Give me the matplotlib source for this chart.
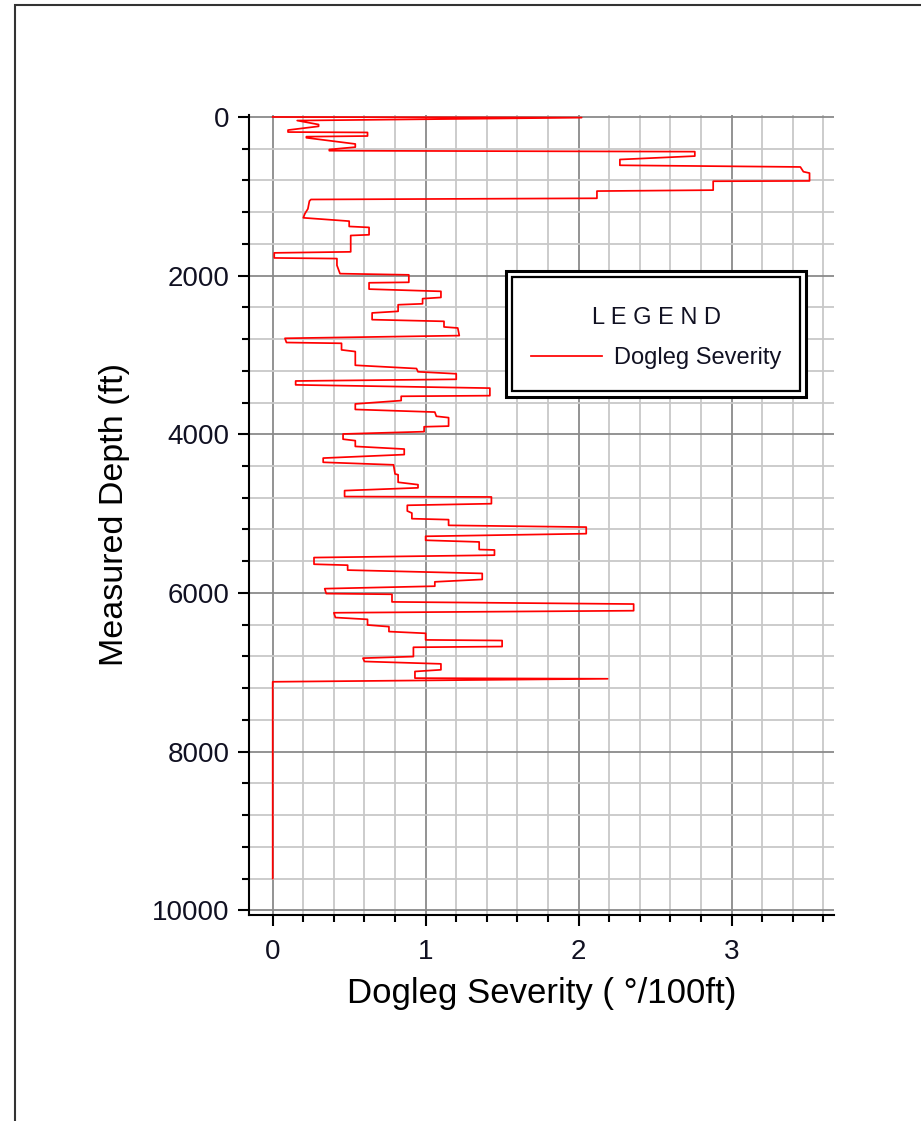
import matplotlib.pyplot as plt
from matplotlib.patches import Rectangle
from matplotlib.ticker import MultipleLocator
from matplotlib.transforms import IdentityTransform

plt.rcParams['font.family'] = ['Liberation Sans', 'DejaVu Sans']

# survey stations: measured depth (ft) and dogleg severity (deg/100ft)
depth_ft = [
    0, 8, 45, 95, 118, 165, 190, 195, 240, 248, 262, 340, 380, 410, 425,
    437, 493, 536, 609, 630, 690, 707, 806, 810, 922, 934, 1025, 1040, 1060,
    1158, 1221, 1271, 1313, 1380, 1392, 1485, 1494, 1700, 1713, 1777, 1785,
    1870, 1975, 1990, 2084, 2090, 2170, 2198, 2275, 2290, 2355, 2367, 2450,
    2470, 2555, 2576, 2647, 2660, 2756, 2790, 2843, 2853, 2936, 2957, 3130,
    3171, 3212, 3237, 3307, 3328, 3377, 3418, 3513, 3521, 3575, 3617, 3687,
    3720, 3773, 3790, 3897, 3905, 3967, 3996, 4062, 4080, 4153, 4186, 4256,
    4300, 4353, 4385, 4500, 4510, 4605, 4635, 4675, 4710, 4785, 4790, 4875,
    4895, 4967, 4993, 5064, 5076, 5148, 5170, 5253, 5286, 5336, 5357, 5453,
    5458, 5524, 5554, 5638, 5650, 5712, 5754, 5830, 5860, 5915, 5946, 6008,
    6017, 6113, 6140, 6224, 6250, 6310, 6333, 6404, 6425, 6487, 6509, 6592,
    6600, 6676, 6685, 6802, 6822, 6864, 6894, 6969, 6990, 7074, 7082, 7120,
    9600,
]
dls = [
    0.0, 2.02, 0.16, 0.30, 0.30, 0.10, 0.10, 0.62, 0.62, 0.22, 0.22, 0.54,
    0.54, 0.37, 0.37, 2.76, 2.76, 2.27, 2.27, 3.45, 3.47, 3.51, 3.51, 2.88,
    2.88, 2.12, 2.12, 0.25, 0.24, 0.23, 0.21, 0.20, 0.50, 0.50, 0.63, 0.63,
    0.51, 0.51, 0.01, 0.01, 0.42, 0.42, 0.44, 0.89, 0.89, 0.63, 0.63, 1.10,
    1.10, 0.98, 0.98, 0.82, 0.82, 0.65, 0.65, 1.12, 1.12, 1.21, 1.22, 0.08,
    0.09, 0.45, 0.45, 0.54, 0.54, 0.94, 0.95, 1.20, 1.20, 0.15, 0.15, 1.42,
    1.42, 0.84, 0.84, 0.54, 0.54, 1.06, 1.07, 1.15, 1.15, 0.99, 0.99, 0.46,
    0.46, 0.54, 0.54, 0.86, 0.86, 0.33, 0.33, 0.79, 0.80, 0.82, 0.82, 0.95,
    0.95, 0.47, 0.47, 1.43, 1.43, 0.88, 0.88, 0.91, 0.91, 1.15, 1.15, 2.05,
    2.05, 1.00, 1.00, 1.35, 1.35, 1.45, 1.45, 0.27, 0.27, 0.49, 0.49, 1.37,
    1.37, 1.06, 1.06, 0.34, 0.35, 0.78, 0.78, 2.36, 2.36, 0.40, 0.41, 0.62,
    0.62, 0.76, 0.76, 1.00, 1.00, 1.50, 1.50, 0.92, 0.92, 0.59, 0.60, 1.10,
    1.10, 0.93, 0.93, 2.19, 0.0, 0.0,
]

x_ticks = [0, 1, 2, 3]
y_ticks = [0, 2000, 4000, 6000, 8000, 10000]

W, H = 921, 1121
fig = plt.figure(figsize=(W / 100, H / 100), dpi=100)


def px_box(x0, y0, x1, y1):
    # pixel box (top-left origin) -> figure fraction rect
    return [x0 / W, 1 - y1 / H, (x1 - x0) / W, (y1 - y0) / H]


def px_rect(x0, y0, x1, y1, **kw):
    # rectangle in pixel coords with top-left origin
    return Rectangle((x0, H - y1), x1 - x0, y1 - y0,
                     transform=IdentityTransform(), clip_on=False, **kw)


ax = fig.add_axes(px_box(249, 115, 834, 915))
ax.plot(dls, depth_ft, color='#ff0000', lw=1.25, label='Dogleg Severity')

ax.set_xlim(-0.155, 3.67)
ax.set_ylim(10060, -25)
ax.set_xticks(x_ticks)
ax.set_yticks(y_ticks)
ax.xaxis.set_minor_locator(MultipleLocator(0.2))
ax.yaxis.set_minor_locator(MultipleLocator(400))

ax.grid(which='major', color='#8a8a8a', lw=1.3)
ax.grid(which='minor', color='#c8c8c8', lw=1.3)
ax.set_axisbelow(True)

for side in ['top', 'right']:
    ax.spines[side].set_visible(False)
for side in ['left', 'bottom']:
    ax.spines[side].set_linewidth(1.5)

ax.tick_params(which='major', direction='out', length=8, width=1.5,
               labelsize=20, labelcolor='#111122')
ax.tick_params(axis='x', which='major', pad=9)
ax.tick_params(axis='y', which='major', pad=6)
ax.tick_params(which='minor', direction='out', length=5, width=1.5)

ax.set_xlabel('Dogleg Severity ( °/100ft)', fontsize=25, labelpad=9)
ax.set_ylabel('Measured Depth (ft)', fontsize=24.5, labelpad=16)

# legend: double frame drawn by hand, entries by the legend itself
ax.add_patch(px_rect(506, 271, 806, 397, facecolor='white',
                     edgecolor='black', lw=2.2, zorder=4))
ax.add_patch(px_rect(512, 277, 800, 391, facecolor='white',
                     edgecolor='black', lw=1.6, zorder=4))
leg = ax.legend(loc='center', bbox_to_anchor=(656 / W, 1 - 338 / H),
                bbox_transform=fig.transFigure, borderaxespad=0, borderpad=0,
                title='L E G E N D', fontsize=17, title_fontsize=17,
                frameon=False, handlelength=3.0, handletextpad=0.5,
                labelspacing=0.75)
for t in leg.get_texts():
    t.set_color('#111122')
leg.get_title().set_color('#111122')

# page border
fig.add_artist(Rectangle((15 / W, -0.1), 1.2, 1.1 - 5 / H,
                         transform=fig.transFigure, fill=False,
                         lw=1.5, edgecolor='#333333'))

plt.savefig('out.png', dpi=100)
plt.close()
